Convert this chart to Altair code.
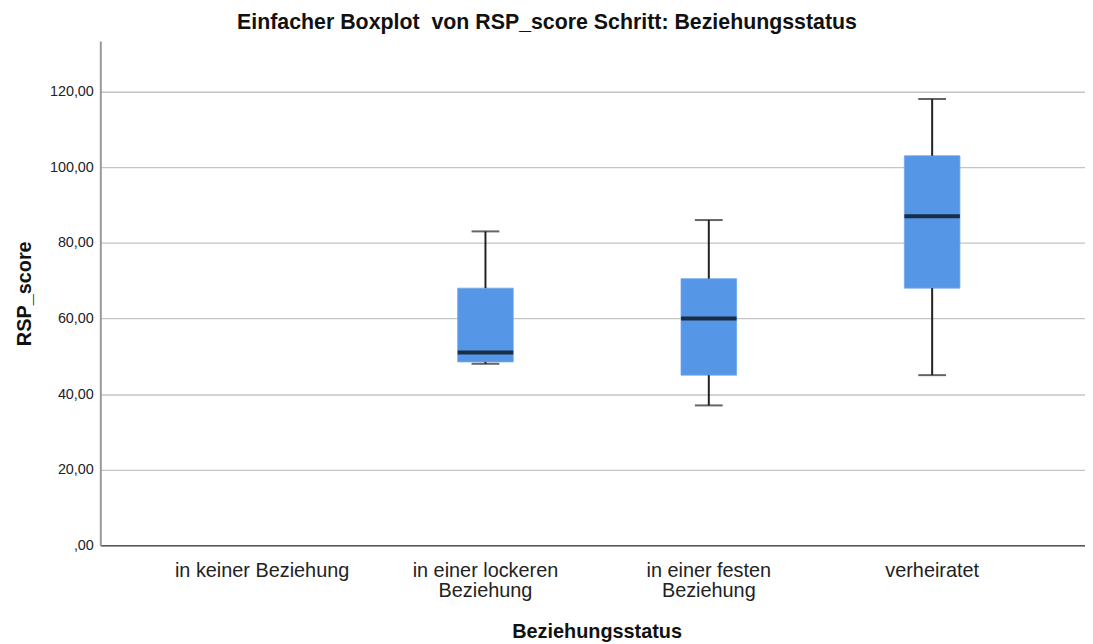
import altair as alt
import pandas as pd

# ---- data ----
categories = ["in keiner Beziehung", "in einer lockeren Beziehung",
              "in einer festen Beziehung", "verheiratet"]
label_lines = [["in keiner Beziehung"], ["in einer lockeren", "Beziehung"],
               ["in einer festen", "Beziehung"], ["verheiratet"]]
box_groups = ["in einer lockeren Beziehung", "in einer festen Beziehung", "verheiratet"]
w_min = [48.0, 37.0, 45.0]
q1 = [48.5, 45.0, 68.0]
median = [51.0, 60.0, 87.0]
q3 = [68.0, 70.5, 103.0]
w_max = [83.0, 86.0, 118.0]
y_ticks = [0, 20, 40, 60, 80, 100, 120]

df = pd.DataFrame({"grp": box_groups, "min": w_min, "q1": q1,
                   "median": median, "q3": q3, "max": w_max})

FONT = "Liberation Sans"
BLUE = "#5596E6"

# multi-line label expression
parts = []
for cat, lines in zip(categories, label_lines):
    arr = "[" + ",".join("'" + l + "'" for l in lines) + "]"
    parts.append(f"datum.label == '{cat}' ? {arr} : ")
label_expr = "".join(parts) + "datum.label"

x_enc = alt.X("grp:N", scale=alt.Scale(domain=categories,
                                      paddingInner=0, paddingOuter=0.2044,
                                      align=0.549),
              sort=categories,
              axis=alt.Axis(title="Beziehungsstatus", labelAngle=0,
                            labelExpr=label_expr, labelFontSize=20,
                            labelFont=FONT, labelColor="#222222",
                            labelLineHeight=21, labelPadding=15,
                            labelBaseline="top",
                            ticks=False, grid=False,
                            domainColor="#555555", domainWidth=1.5,
                            titleFont=FONT, titleFontSize=20,
                            titleFontWeight="bold", titleColor="#111111",
                            titleX=500, titleY=93, titleBaseline="alphabetic",
                            titleAlign="center"))

y_scale = alt.Scale(domain=[0, 133.3], nice=False, zero=True)
y_axis = alt.Axis(title="RSP_score", values=y_ticks,
                  labelExpr="datum.value == 0 ? ',00' : replace(format(datum.value, '.2f'), '.', ',')",
                  labelFont=FONT, labelFontSize=14.5, labelColor="#222222",
                  labelPadding=7, ticks=False,
                  grid=True, gridColor="#C4C4C4", gridWidth=1.3,
                  domainColor="#999999", domainWidth=2,
                  titleFont=FONT, titleFontSize=20, titleFontWeight="bold",
                  titleColor="#111111", titleAngle=270,
                  titleX=-70, titleY=254, titleBaseline="alphabetic",
                  titleAlign="center")

base = alt.Chart(df)

box = base.mark_bar(size=56, color=BLUE, stroke="#6FA8EE", strokeWidth=0.8).encode(
    x=x_enc,
    y=alt.Y("q1:Q", scale=y_scale, axis=y_axis), y2="q3:Q")
lower = base.mark_rule(color="#222222", strokeWidth=2).encode(
    x=alt.X("grp:N", sort=categories),
    y=alt.Y("min:Q"), y2="q1:Q")
upper = base.mark_rule(color="#222222", strokeWidth=2).encode(
    x=alt.X("grp:N", sort=categories),
    y=alt.Y("q3:Q"), y2="max:Q")
med = base.mark_tick(size=56, thickness=4, color="#000000").encode(
    x=alt.X("grp:N", sort=categories), y=alt.Y("median:Q"))
cap_lo = base.mark_tick(size=28, thickness=2, color="#222222").encode(
    x=alt.X("grp:N", sort=categories), y=alt.Y("min:Q"))
cap_hi = base.mark_tick(size=28, thickness=2, color="#222222").encode(
    x=alt.X("grp:N", sort=categories), y=alt.Y("max:Q"))

chart = alt.layer(box, lower, upper, med, cap_lo, cap_hi).properties(
    width=992, height=508,
    autosize=alt.AutoSizeParams(type="none"),
    padding={"left": 93, "top": 31, "right": 0, "bottom": 97},
    title=alt.TitleParams(
        "Einfacher Boxplot \u00a0von RSP_score Schritt: Beziehungsstatus",
        font=FONT, fontSize=21.5, fontWeight="bold", color="#111111",
        anchor="middle", dx=-46, dy=19, offset=10, baseline="alphabetic"),
).configure(background="white").configure_view(strokeWidth=0, stroke="transparent")

chart.save("out.html", embed_options={"renderer": "svg", "actions": False})
